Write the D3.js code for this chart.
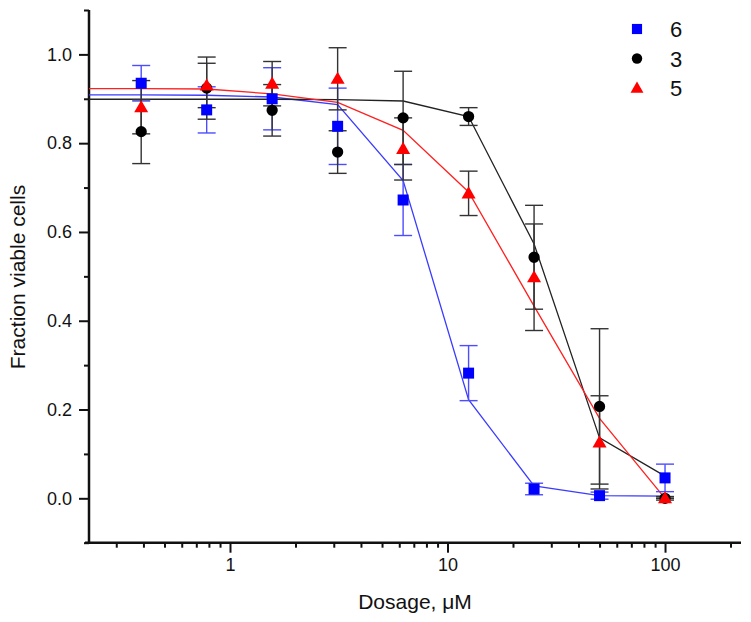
<!DOCTYPE html>
<html><head><meta charset="utf-8">
<script src="https://cdn.jsdelivr.net/npm/d3@7"></script>
<style>body{margin:0;background:#fff}svg{display:block}text{font-family:"Liberation Sans",Arial,sans-serif;fill:#111}</style>
</head><body><svg id="c" width="751" height="622"></svg>
<script>
const doses = [0.390625, 0.78125, 1.5625, 3.125, 6.25, 12.5, 25, 50, 100];
const seriesNames = ["6", "3", "5"];
const s6 = [0.935, 0.875, 0.900, 0.838, 0.672, 0.282, 0.021, 0.006, 0.046];
const s6err = [0.040, 0.052, 0.070, 0.086, 0.080, 0.062, 0.013, 0.008, 0.031];
const s3 = [0.826, 0.924, 0.874, 0.780, 0.857, 0.860, 0.543, 0.207, 0.000];
const s3err = [0.072, 0.070, 0.058, 0.048, 0.105, 0.020, 0.117, 0.175, 0.004];
const s5 = [0.881, 0.930, 0.934, 0.945, 0.787, 0.687, 0.498, 0.126, 0.000];
const s5err = [0.060, 0.050, 0.050, 0.070, 0.070, 0.050, 0.120, 0.105, 0.000];
const fitDoses = [0.2248, 0.390625, 0.78125, 1.5625, 3.125, 6.25, 12.5, 25, 50, 100];
const fit6 = [0.909, 0.909, 0.908, 0.904, 0.887, 0.716, 0.222, 0.028, 0.006, 0.005];
const fit3 = [0.899, 0.899, 0.899, 0.899, 0.898, 0.895, 0.860, 0.573, 0.136, 0.050];
const fit5 = [0.923, 0.923, 0.922, 0.911, 0.892, 0.829, 0.690, 0.433, 0.180, 0.000];
const xMajor = [1, 10, 100];
const xMinor = [0.3,0.4,0.5,0.6,0.7,0.8,0.9,2,3,4,5,6,7,8,9,20,30,40,50,60,70,80,90,200];
const yMajor = [0.0, 0.2, 0.4, 0.6, 0.8, 1.0];
const yMinor = [-0.1, 0.1, 0.3, 0.5, 0.7, 0.9, 1.1];

const svg = d3.select("#c");
const x = d3.scaleLog().domain([0.2248, 223.5]).range([89, 741]);
const y = d3.scaleLinear().domain([-0.1, 1.1]).range([542.7, 10]);

const series = [
  {name: seriesNames[0], v: s6, e: s6err, fit: fit6, color: "#0000ff", line: "#3b3bff", err: "#4d4dff", shape: d3.symbolSquare, size: 121},
  {name: seriesNames[1], v: s3, e: s3err, fit: fit3, color: "#000000", line: "#222222", err: "#333333", shape: d3.symbolCircle, size: 100},
  {name: seriesNames[2], v: s5, e: s5err, fit: fit5, color: "#ff0000", line: "#ff2020", err: "#333333", shape: d3.symbolTriangle, size: 85}
];

// axes
const ax = svg.append("g");
ax.append("line").attr("x1", 85).attr("x2", 741).attr("y1", y(-0.1)).attr("y2", y(-0.1)).attr("stroke", "#111").attr("stroke-width", 2.5);
ax.append("line").attr("x1", 89).attr("x2", 89).attr("y1", y(1.1)).attr("y2", y(-0.1)+1).attr("stroke", "#111").attr("stroke-width", 2.5);

const xAxis = d3.axisBottom(x).tickValues(xMajor).tickFormat(d3.format("d")).tickSize(10).tickPadding(6);
const gx = svg.append("g").attr("transform", `translate(0,${y(-0.1)})`).call(xAxis);
gx.select(".domain").remove();
gx.selectAll(".tick line").attr("stroke", "#111").attr("stroke-width", 2);
gx.selectAll(".tick text").style("font-size", "18px").attr("font-family", "Liberation Sans, Arial, sans-serif").attr("fill", "#111");
const xAxisMinor = d3.axisBottom(x).tickValues(xMinor).tickFormat("").tickSize(5);
const gxm = svg.append("g").attr("transform", `translate(0,${y(-0.1)})`).call(xAxisMinor);
gxm.select(".domain").remove();
gxm.selectAll(".tick line").attr("stroke", "#111").attr("stroke-width", 2);

const yAxis = d3.axisLeft(y).tickValues(yMajor).tickFormat(d3.format(".1f")).tickSize(10).tickPadding(7);
const gy = svg.append("g").attr("transform", "translate(89,0)").call(yAxis);
gy.select(".domain").remove();
gy.selectAll(".tick line").attr("stroke", "#111").attr("stroke-width", 2);
gy.selectAll(".tick text").style("font-size", "18px").attr("font-family", "Liberation Sans, Arial, sans-serif").attr("fill", "#111");
const yAxisMinor = d3.axisLeft(y).tickValues(yMinor).tickFormat("").tickSize(5);
const gym = svg.append("g").attr("transform", "translate(89,0)").call(yAxisMinor);
gym.select(".domain").remove();
gym.selectAll(".tick line").attr("stroke", "#111").attr("stroke-width", 2);

// titles
svg.append("text").attr("x", 415).attr("y", 609).attr("text-anchor", "middle").style("font-size", "21px").text("Dosage, \u03BCM");
svg.append("text").attr("transform", "translate(25,277) rotate(-90)").attr("text-anchor", "middle").style("font-size", "21px").text("Fraction viable cells");

// fit lines
const lineGen = d3.line().x(d => x(d[0])).y(d => y(d[1]));
series.forEach(s => {
  svg.append("path").datum(fitDoses.map((d, i) => [d, s.fit[i]]))
    .attr("d", lineGen).attr("fill", "none").attr("stroke", s.line).attr("stroke-width", 1.3);
});

// error bars
series.forEach(s => {
  const g = svg.append("g").attr("stroke", s.err).attr("stroke-width", 1.4);
  doses.forEach((d, i) => {
    const cx = x(d), hi = y(s.v[i] + s.e[i]), lo = y(s.v[i] - s.e[i]);
    g.append("line").attr("x1", cx).attr("x2", cx).attr("y1", hi).attr("y2", lo);
    g.append("line").attr("x1", cx - 9).attr("x2", cx + 9).attr("y1", hi).attr("y2", hi);
    g.append("line").attr("x1", cx - 9).attr("x2", cx + 9).attr("y1", lo).attr("y2", lo);
  });
});

// markers
series.forEach(s => {
  const sym = d3.symbol().type(s.shape).size(s.size);
  svg.append("g").selectAll("path").data(doses).join("path")
    .attr("d", sym)
    .attr("transform", (d, i) => `translate(${x(d)},${y(s.v[i]) + (s.shape === d3.symbolTriangle ? 1 : 0)})`)
    .attr("fill", s.color);
});

// legend
const lg = svg.append("g");
series.forEach((s, i) => {
  const ly = 29 + i * 29.5;
  lg.append("path").attr("d", d3.symbol().type(s.shape).size(s.size * 0.85)).attr("transform", `translate(637,${ly + (s.shape === d3.symbolTriangle ? 1 : 0)})`).attr("fill", s.color);
  lg.append("text").attr("x", 670).attr("y", ly + 8).style("font-size", "22px").text(s.name);
});
</script></body></html>
